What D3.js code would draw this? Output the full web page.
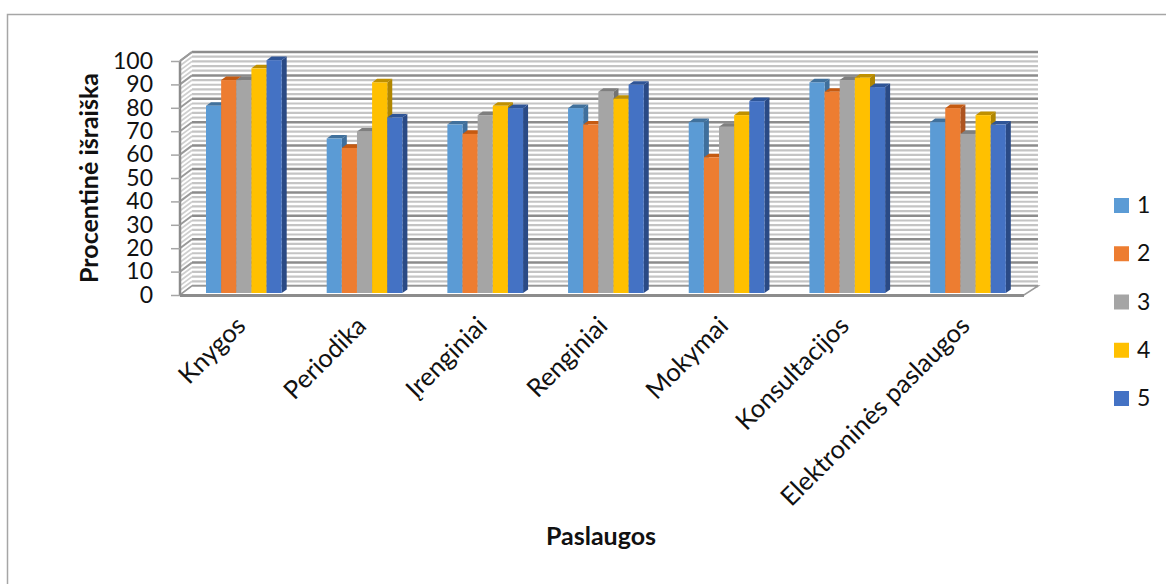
<!DOCTYPE html>
<html>
<head>
<meta charset="utf-8">
<script src="https://cdn.jsdelivr.net/npm/d3@7/dist/d3.min.js"></script>
<style>
html,body{margin:0;padding:0;background:#fff;}
svg{display:block;}
text{font-family:Lato,"Noto Sans",sans-serif;fill:#111;}
</style>
</head>
<body>
<svg id="chart" width="1166" height="584"></svg>
<script>
const categories = ["Knygos","Periodika","Įrenginiai","Renginiai","Mokymai","Konsultacijos","Elektroninės paslaugos"];
const seriesNames = ["1","2","3","4","5"];
const series1 = [80,66,72,79,73,90,73];
const series2 = [91,62,68,72,58,86,79];
const series3 = [91,69,76,86,71,91,68];
const series4 = [96,90,80,83,76,92,76];
const series5 = [99.5,75,79,89,82,88,72];
const allSeries = [series1,series2,series3,series4,series5];
const fronts = ["#5b9bd5","#ed7d31","#a5a5a5","#ffc000","#4472c4"];
const tops   = ["#41719c","#c55a11","#7f7f7f","#bf9000","#2f5597"];
const sides  = ["#3f6f9c","#ad5420","#737373","#b08600","#2a4a85"];
const yTicks = d3.range(0,101,10);
const yMinor = d3.range(0,101,2);

const svg = d3.select("#chart");
// outer frame of the chart area
svg.append("path").attr("d","M7.5,584V14.5H1166").attr("fill","none").attr("stroke","#a6a6a6").attr("stroke-width",1.5);

const y = d3.scaleLinear().domain([0,100]).range([295,61]);
const wall = {dx:12, dy:-9};
const xRight = 1024;
const xLeft = 180;
const wallY = v => y(v)+wall.dy;

const grid = svg.append("g");
// minor rules on the back wall and side wall
yMinor.filter(v=>v%10!==0).forEach(v=>{
  grid.append("line").attr("x1",xLeft+wall.dx).attr("x2",xRight+wall.dx+2)
    .attr("y1",wallY(v)).attr("y2",wallY(v)).attr("stroke","#c4c4c4").attr("stroke-width",2.2);
  grid.append("line").attr("x1",xLeft).attr("x2",xLeft+wall.dx)
    .attr("y1",y(v)).attr("y2",wallY(v)).attr("stroke","#cfcfcf").attr("stroke-width",1.8);
});
// major rules
yTicks.forEach(v=>{
  grid.append("line").attr("x1",xLeft+wall.dx).attr("x2",xRight+wall.dx+2)
    .attr("y1",wallY(v)).attr("y2",wallY(v)).attr("stroke","#8c8c8c").attr("stroke-width",2.5);
  grid.append("line").attr("x1",xLeft).attr("x2",xLeft+wall.dx)
    .attr("y1",y(v)).attr("y2",wallY(v)).attr("stroke","#9a9a9a").attr("stroke-width",2);
});
// floor and frame edges
svg.append("path").attr("d",`M${xLeft},${y(0)}L${xLeft+wall.dx},${wallY(0)}H${xRight+wall.dx+2}L${xRight},${y(0)}Z`)
  .attr("fill","#fff").attr("stroke","#9a9a9a").attr("stroke-width",1.5);
svg.append("line").attr("x1",xLeft).attr("x2",xRight).attr("y1",y(0)+.5).attr("y2",y(0)+.5).attr("stroke","#8c8c8c").attr("stroke-width",3);
svg.append("line").attr("x1",xLeft).attr("x2",xLeft).attr("y1",y(0)).attr("y2",y(100)).attr("stroke","#8c8c8c").attr("stroke-width",2.5);
svg.append("line").attr("x1",xLeft).attr("x2",xLeft+wall.dx).attr("y1",y(100)).attr("y2",wallY(100)).attr("stroke","#9a9a9a").attr("stroke-width",2);

// value axis
const axis = d3.axisLeft(y).tickValues(yTicks).tickSize(9).tickPadding(18);
const axisG = svg.append("g").attr("transform",`translate(${xLeft},0)`).call(axis);
axisG.select(".domain").remove();
axisG.selectAll("line").attr("stroke","#a6a6a6").attr("stroke-width",1.5);
axisG.selectAll("text").attr("font-size",23).style("font-family",'Lato,"Noto Sans",sans-serif').attr("fill","#111");

// category bands and clustered bars
const x0 = d3.scaleBand().domain(categories).range([xLeft-.3,xLeft+844.5]).paddingInner(0).paddingOuter(0);
const x1 = d3.scaleBand().domain(seriesNames).range([26.3,102]);
const yBar = v => y(v)-2;
const depth = {dx:5, dy:-3.6};
const barsG = svg.append("g");
categories.forEach((c,ci)=>{
  seriesNames.forEach((s,si)=>{
    const v = allSeries[si][ci];
    const bx = x0(c)+x1(s), w = x1.bandwidth(), t = yBar(v), b = yBar(0);
    const g = barsG.append("g");
    g.append("path").attr("d",`M${bx+w},${t}l${depth.dx},${depth.dy}V${b+depth.dy}l${-depth.dx},${-depth.dy}Z`).attr("fill",sides[si]);
    g.append("path").attr("d",`M${bx},${t}l${depth.dx},${depth.dy}h${w}l${-depth.dx},${-depth.dy}Z`).attr("fill",tops[si]);
    g.append("rect").attr("x",bx).attr("y",t).attr("width",w).attr("height",b-t).attr("fill",fronts[si]);
  });
});

// rotated category labels, end anchored below each cluster
categories.forEach(c=>{
  const cx = x0(c)+53;
  svg.append("text").attr("transform",`translate(${cx},313) rotate(-45)`)
    .attr("text-anchor","end").attr("dy","0.8em").attr("font-size",25.5).text(c);
});

// axis titles
svg.append("text").attr("transform","translate(98,178) rotate(-90)").attr("text-anchor","middle")
  .attr("font-size",25).attr("font-weight",700).text("Procentinė išraiška");
svg.append("text").attr("x",601).attr("y",545).attr("text-anchor","middle")
  .attr("font-size",25).attr("font-weight",700).text("Paslaugos");

// legend
const legendY = d3.scaleLinear().domain([0,4]).range([198,391]);
seriesNames.forEach((s,i)=>{
  svg.append("rect").attr("x",1114).attr("y",legendY(i)).attr("width",15).attr("height",15).attr("fill",fronts[i]);
  svg.append("text").attr("x",1137).attr("y",legendY(i)+15).attr("font-size",23).text(s);
});
</script>
</body>
</html>
